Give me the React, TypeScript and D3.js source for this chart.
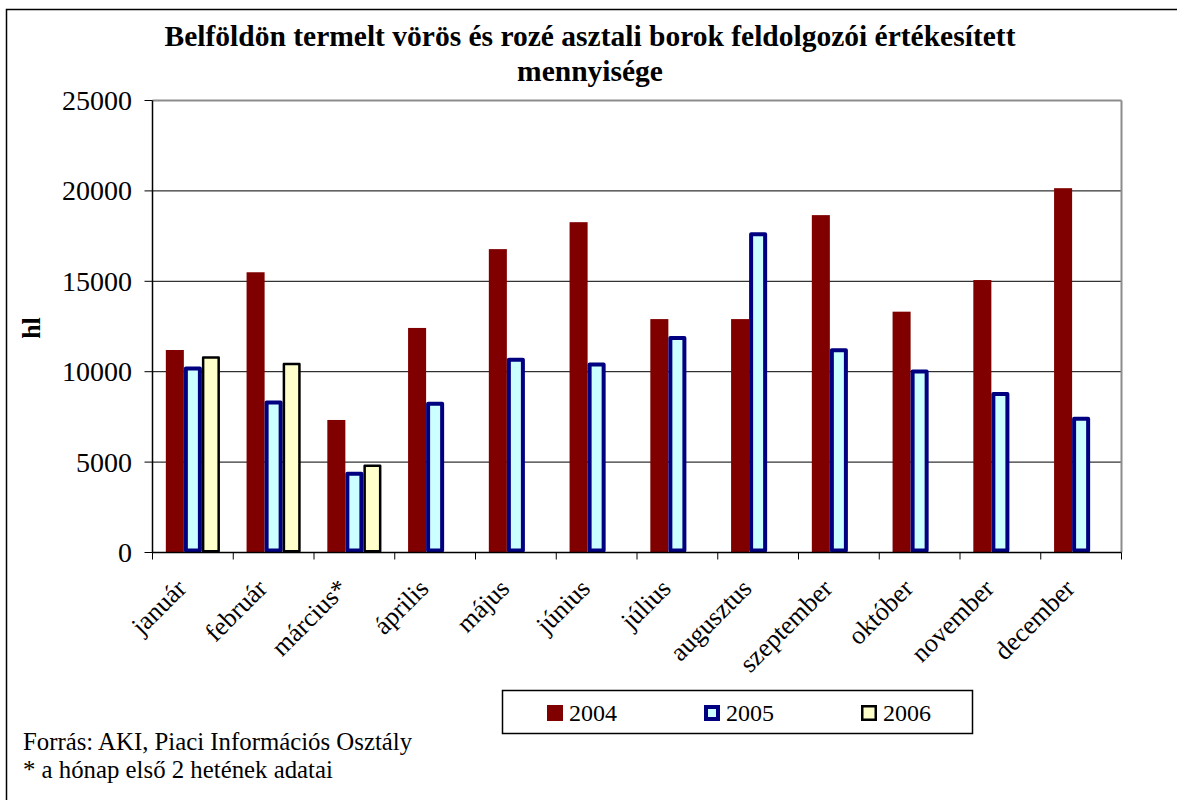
import React from 'react';
import * as d3 from 'd3';

// months on the category axis
const months = ["január", "február", "március*", "április", "május", "június", "július", "augusztus", "szeptember", "október", "november", "december"];
const seriesNames = ["2004", "2005", "2006"];

// hl per month
const values2004 = [11200, 15500, 7330, 12420, 16780, 18270, 12910, 12910, 18660, 13320, 15070, 20150];
const values2005 = [10180, 8300, 4360, 8230, 10660, 10400, 11860, 17600, 11180, 10010, 8760, 7400];
const values2006 = [10780, 10420, 4800, null, null, null, null, null, null, null, null, null];

const yTicks = [0, 5000, 10000, 15000, 20000, 25000];

const FONT = '"Liberation Serif", Tinos, "Times New Roman", "DejaVu Serif", serif';

const styles = {
  "2004": { fill: "#800000", stroke: "none", sw: 0 },
  "2005": { fill: "#CCFFFF", stroke: "#000080", sw: 4 },
  "2006": { fill: "#FFFFCC", stroke: "#000000", sw: 2.5 },
};

const App = () => {
  const left = 152.5, right = 1121.5, top = 100.5, bottom = 552.5;

  const x = d3.scaleBand()
    .domain(months)
    .range([left, right])
    .paddingInner(0.33)
    .paddingOuter(0.165);

  const xs = d3.scaleBand()
    .domain(seriesNames)
    .range([0, x.bandwidth()]);

  const y = d3.scaleLinear()
    .domain([0, 25000])
    .range([bottom, top]);

  const gapHalf = (x.step() - x.bandwidth()) / 2;
  const boundaries = months.map(m => x(m) - gapHalf).concat([right]);

  const rows = months.map((m, i) => ({
    month: m,
    vals: { "2004": values2004[i], "2005": values2005[i], "2006": values2006[i] },
  }));

  const legendItems = [
    { name: "2004", bx: 547, tx: 569 },
    { name: "2005", bx: 704, tx: 726 },
    { name: "2006", bx: 861, tx: 883 },
  ];

  return (
    <svg width={1177} height={800} style={{ position: "absolute", left: 0, top: 0, display: "block", background: "#fff", fontFamily: FONT }}>
      {/* chart area border, runs off the right and bottom */}
      <rect x={6.5} y={9.5} width={1300} height={900} fill="#fff" stroke="#000" strokeWidth={1.5} />

      {/* title */}
      <text x={590} y={46} textAnchor="middle" fontWeight="bold" fontSize={29.5}>
        Belföldön termelt vörös és rozé asztali borok feldolgozói értékesített
      </text>
      <text x={590} y={81} textAnchor="middle" fontWeight="bold" fontSize={29.5}>
        mennyisége
      </text>

      {/* gridlines */}
      {yTicks.filter(t => t > 0 && t < 25000).map(t => (
        <line key={t} x1={left} x2={right} y1={y(t)} y2={y(t)} stroke="#000" strokeWidth={1} />
      ))}
      {/* plot area border (top/right) */}
      <line x1={left} x2={right} y1={y(25000)} y2={y(25000)} stroke="#8c8c8c" strokeWidth={2} />
      <line x1={right} x2={right} y1={top} y2={bottom} stroke="#8c8c8c" strokeWidth={2} />

      {/* bars */}
      {rows.map(r => seriesNames.map(s => {
        const v = r.vals[s];
        if (v == null) return null;
        const st = styles[s];
        const bx = x(r.month) + xs(s);
        const w = xs.bandwidth();
        return (
          <rect key={r.month + s}
            x={bx + st.sw / 2} y={y(v)}
            width={w - st.sw} height={y(0) - y(v) - st.sw / 2}
            fill={st.fill} stroke={st.stroke} strokeWidth={st.sw} strokeLinejoin="round" />
        );
      }))}

      {/* axes */}
      <line x1={left} x2={left} y1={top} y2={bottom} stroke="#000" strokeWidth={1.5} />
      <line x1={left} x2={right} y1={bottom} y2={bottom} stroke="#000" strokeWidth={1.5} />
      {yTicks.map(t => (
        <g key={t}>
          <line x1={left - 8} x2={left} y1={y(t)} y2={y(t)} stroke="#000" strokeWidth={1} />
          <text x={132} y={y(t)} dy="0.34em" textAnchor="end" fontSize={28}>{t}</text>
        </g>
      ))}
      {boundaries.map((b, i) => (
        <line key={i} x1={b} x2={b} y1={bottom} y2={bottom + 7} stroke="#000" strokeWidth={1} />
      ))}
      {months.map(m => {
        const cx = x(m) + x.bandwidth() / 2;
        return (
          <text key={m} transform={`translate(${cx - 5},${590}) rotate(-45)`} textAnchor="end" fontSize={26}>{m}</text>
        );
      })}

      {/* y axis title */}
      <text transform="translate(40,328) rotate(-90)" textAnchor="middle" fontWeight="bold" fontSize={26}>hl</text>

      {/* legend */}
      <rect x={502.5} y={690.5} width={470} height={43} fill="#fff" stroke="#000" strokeWidth={1.5} />
      {legendItems.map(it => {
        const st = styles[it.name];
        return (
          <g key={it.name}>
            <rect x={it.bx + st.sw / 2} y={705 + st.sw / 2} width={16 - st.sw} height={16 - st.sw}
              fill={st.fill} stroke={st.stroke} strokeWidth={st.sw} />
            <text x={it.tx} y={721} fontSize={24}>{it.name}</text>
          </g>
        );
      })}

      {/* footnotes */}
      <text x={23} y={750} fontSize={24.8}>Forrás: AKI, Piaci Információs Osztály</text>
      <text x={23} y={778} fontSize={24.8}>* a hónap első 2 hetének adatai</text>
    </svg>
  );
};

export default App;
